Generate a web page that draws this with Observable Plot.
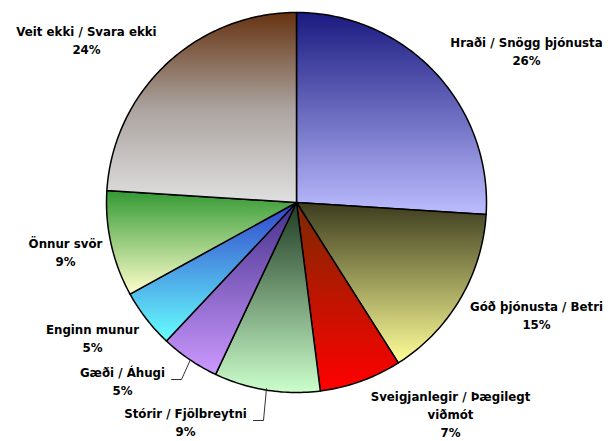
<!DOCTYPE html>
<html>
<head>
<meta charset="utf-8">
<script src="https://cdn.jsdelivr.net/npm/d3@7"></script>
<script src="https://cdn.jsdelivr.net/npm/@observablehq/plot@0.6"></script>
<style>
  html, body { margin: 0; padding: 0; background: #fff; }
</style>
</head>
<body>
<div id="chart"></div>
<script>
// ---- data ----
const categories = [
  "Hraði / Snögg þjónusta",
  "Góð þjónusta / Betri",
  "Sveigjanlegir / Þægilegt\nviðmót",
  "Stórir / Fjölbreytni",
  "Gæði / Áhugi",
  "Enginn munur",
  "Önnur svör",
  "Veit ekki / Svara ekki"
];
const values = [26, 15, 7, 9, 5, 5, 9, 24];
const topColors = ["#1a1a80", "#3c3c1e", "#7a2a00", "#1e3a22", "#44308c", "#3344cc", "#339933", "#663311"];
const midColors = [null, null, null, null, null, null, null, "#aaa29e"];
const bottomColors = ["#bcbcff", "#ffff99", "#ff0000", "#ccffcc", "#cc99ff", "#66ffff", "#ffffcc", "#e0e0e0"];

// ---- layout (pixels) ----
const cx = 296, cy = 202, R = 190;
const labelPos = [[526, 50], [536, 313.5], [450, 413], [185, 421], [122, 380], [92, 337], [65, 250.5], [86, 39]];
const leaders = [
  [[171, 379], [181, 379], [190, 359]],
  [[253, 420], [263, 420], [266, 388]]
];
const ux = px => (px - cx) / R;
const uy = py => (py - cy) / R;

// slices from d3.pie (clockwise from 12 o'clock)
const pie = d3.pie().sort(null).value(d => d)(values);
const slices = pie.map((a, i) => {
  const pts = [{x: 0, y: 0}];
  const n = Math.max(4, Math.ceil((a.endAngle - a.startAngle) / (Math.PI / 180)));
  for (let k = 0; k <= n; k++) {
    const t = a.startAngle + (a.endAngle - a.startAngle) * k / n;
    pts.push({x: Math.sin(t), y: -Math.cos(t)});
  }
  return pts;
});

const labels = categories.map((c, i) => ({
  text: c + "\n" + values[i] + "%",
  x: ux(labelPos[i][0]),
  y: uy(labelPos[i][1])
}));

const plot = Plot.plot({
  width: 612,
  height: 441,
  margin: 0,
  x: {domain: [-1, 1], range: [cx - R, cx + R], axis: null},
  y: {domain: [-1, 1], range: [cy - R, cy + R], axis: null},
  style: {background: "#fff"},
  marks: [
    ...slices.map((pts, i) => Plot.line(pts, {
      x: "x", y: "y", curve: "linear-closed",
      fill: `url(#grad${i})`, stroke: "#000", strokeWidth: 1.5, strokeLinejoin: "round"
    })),
    ...leaders.map(l => Plot.line(l.map(([px, py]) => ({x: ux(px), y: uy(py)})), {
      x: "x", y: "y", stroke: "#333", strokeWidth: 1
    })),
    Plot.text(labels, {
      x: "x", y: "y", text: "text",
      fontFamily: "DejaVu Sans", fontWeight: "bold", fontSize: 11.8,
      lineHeight: 1.5, fill: "#000", textAnchor: "middle", lineAnchor: "middle"
    })
  ]
});

const defs = d3.select(plot).insert("defs", ":first-child");
values.forEach((v, i) => {
  const g = defs.append("linearGradient").attr("id", "grad" + i)
    .attr("x1", 0).attr("y1", 0).attr("x2", 0).attr("y2", 1);
  g.append("stop").attr("offset", "0%").attr("stop-color", topColors[i]);
  if (midColors[i]) g.append("stop").attr("offset", "50%").attr("stop-color", midColors[i]);
  g.append("stop").attr("offset", "100%").attr("stop-color", bottomColors[i]);
});

document.getElementById("chart").appendChild(plot);
</script>
</body>
</html>
